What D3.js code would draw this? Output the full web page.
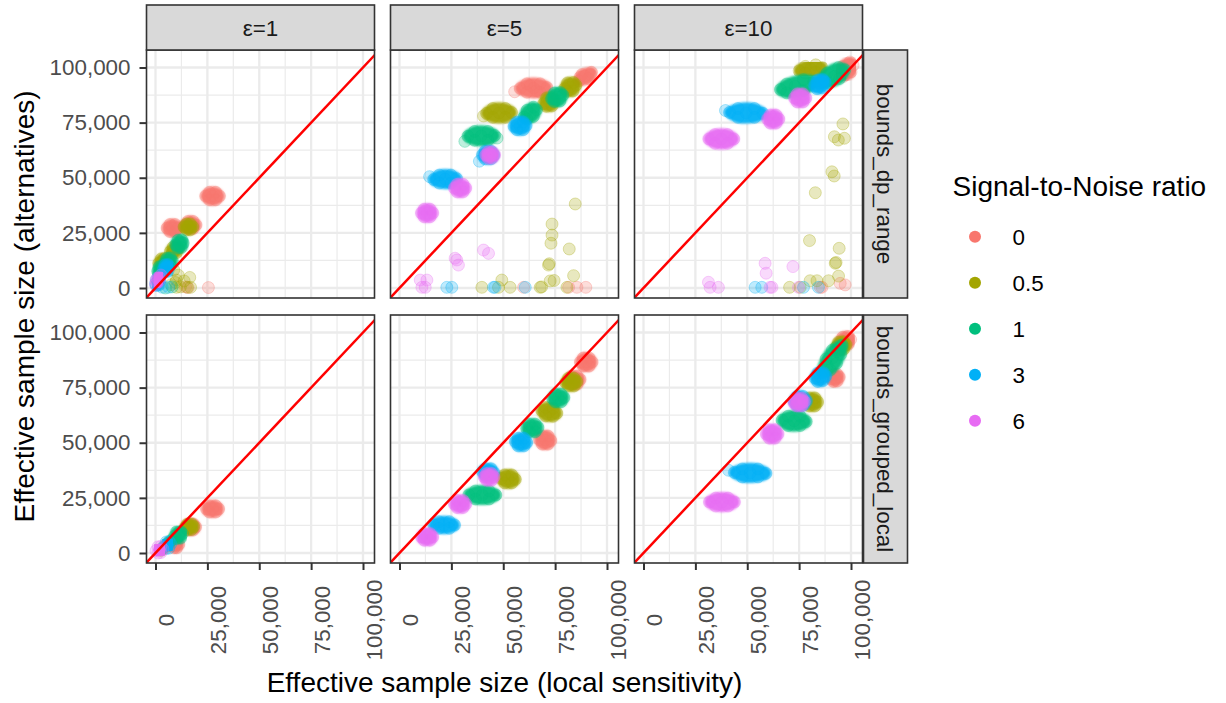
<!DOCTYPE html>
<html>
<head>
<meta charset="utf-8">
<script src="https://cdn.jsdelivr.net/npm/d3@7"></script>
<style>
  body { margin: 0; background: #fff; }
  svg { display: block; font-family: "Liberation Sans", Arial, Helvetica, sans-serif; }
</style>
</head>
<body>
<div id="chart"></div>
<script>
const snrLevels = ["0", "0.5", "1", "3", "6"];
const snrColors = ["#F8766D", "#A3A500", "#00BF7D", "#00B0F6", "#E76BF3"];
const epsLabels = ["ε=1", "ε=5", "ε=10"];
const boundLabels = ["bounds_dp_range", "bounds_grouped_local"];
const tickValues = [0, 25000, 50000, 75000, 100000];
const minorValues = [12500, 37500, 62500, 87500];

// points, in thousands: [snr index, [[x, y], ...], kind]
// kind "s" = scattered single runs, otherwise a dense cluster of runs
const rangeE1 = [
  [0, [[24.2,41.7],[30.8,41.7],[26,43.4],[29,43.4],[26,40],[29,40],[27.5,41.7]]],
  [0, [[5.6,27.2],[10.8,27.2],[7,28.8],[9.4,28.8],[7,25.6],[9.4,25.6],[8.2,27.2]]],
  [0, [[14.3,28.6],[19.5,28.6],[15.7,30.2],[18.1,30.2],[15.7,27],[18.1,27],[16.9,28.6]]],
  [0, [[15.7,0.2],[25.5,0.2],[14.5,0.5]], "s"],
  [1, [[13.8,27.7],[18,27.7],[15,29],[16.8,29],[15,26.4],[16.8,26.4],[15.9,27.7]]],
  [1, [[7.2,16.5],[11.2,18],[8.5,18.5],[10.2,19],[8,15.5],[10,16],[9.2,17.2]]],
  [1, [[1.6,11.2],[5.2,12.4],[2.8,13.2],[4.4,13.4],[2.6,10.2],[4.2,10.6],[3.4,11.8]]],
  [1, [[16.5,4.8],[8.8,8.2],[10.1,3.6],[9.6,2.5],[10.1,0.3],[15.3,0.3],[16.9,0.3],[12,0.5],[7.5,1.5],[11,5.8],[13.8,3.2]], "s"],
  [2, [[9.8,19.6],[13.4,20.4],[10.8,21.6],[12.6,21.8],[10.6,18.2],[12.4,18.4],[11.6,20]]],
  [2, [[4.5,11.4],[8.1,12.2],[5.5,13.4],[7.2,13.6],[5.4,10.2],[7.2,10.4],[6.3,11.8]]],
  [2, [[1,7.6],[3.8,8.8],[1.8,9.6],[3,9.8],[1.6,6.6],[3,6.8],[2.4,8.2]]],
  [2, [[4.8,0],[8,0.5]], "s"],
  [3, [[3.8,8.4],[6.8,9.6],[4.6,10.4],[6,10.6],[4.4,7.4],[6,7.6],[5.3,9]]],
  [3, [[0,2],[2,3.4],[0.5,4],[1.6,4.2],[0.3,1.2],[1.5,1.4],[1,2.7]]],
  [3, [[3.2,0.3],[6.4,0.3]], "s"],
  [4, [[0,1.5],[0.5,2.8],[1.2,3.8],[1.8,4.8],[2.6,5.9],[0.2,3.5],[1.8,3.2],[1,4.5]]]
];

const rangeE5 = [
  [0, [[58.2,90.5],[71,90.9],[61.4,92.6],[67.8,92.6],[61.4,88.8],[67.8,88.8],[64.6,90.7],[66,89.5],[63,91.8]]],
  [0, [[86.5,94],[92.5,97.8],[88,96.8],[91,95],[89.5,96.1],[87,95.5],[92,96.8]]],
  [0, [[55.5,89],[59.8,0.3],[81.5,0.3],[85.5,0.3],[89.8,0.3]], "s"],
  [1, [[79.6,90.4],[85,92],[81,93],[83.8,93.2],[80.8,89.2],[83.6,89.4],[82.3,91.2]]],
  [1, [[69.5,83.6],[74.9,85.2],[70.9,86.2],[73.7,86.4],[70.7,82.4],[73.5,82.6],[72.2,84.4]]],
  [1, [[42,79.2],[54,79.6],[45,81.4],[51,81.4],[45,77.4],[51,77.4],[48,79.4]]],
  [1, [[40.5,78],[84.7,38.1],[73.5,29],[73.5,24],[73,20.3],[81.8,17.7],[71.8,10.4],[72.2,11],[83.9,5.6],[72.6,3.2],[74.5,3.4],[49.3,3.6],[47.7,0.3],[53.3,0.3],[39.7,0.3],[67.8,0.3],[68.5,0.5],[80.7,0.3]], "s"],
  [2, [[73.3,85.8],[78.7,87.4],[74.7,88.4],[77.5,88.6],[74.5,84.6],[77.3,84.8],[76,86.6]]],
  [2, [[60,77.5],[66,80.8],[61.5,80.6],[64.6,82],[61.4,76.6],[64.5,77.8],[63,79]]],
  [2, [[33,68.8],[45.8,69.2],[36.2,71],[42.6,71],[36.2,67],[42.6,67],[39.4,69]]],
  [2, [[31.5,66.5],[47,68]], "s"],
  [3, [[55.2,73.3],[61,73.7],[56.6,75.2],[59.6,75.3],[56.6,71.8],[59.6,71.8],[58.1,73.5]]],
  [3, [[40,60.3],[45.4,60.3],[41.3,62],[44.1,62],[41.3,58.6],[44.1,58.6],[42.7,60.3]]],
  [3, [[16.5,49.2],[27.5,49.6],[19.2,51.2],[24.8,51.2],[19.2,47.6],[24.8,47.6],[22,49.4]]],
  [3, [[38.5,57.5],[14.5,50.5],[45.3,0.3],[46,0.3],[60.6,0.3],[22.8,0.3],[25.2,0.3]], "s"],
  [4, [[41.6,60.3],[45.8,60.3],[42.7,61.7],[44.7,61.7],[42.7,58.9],[44.7,58.9],[43.7,60.3]]],
  [4, [[26.5,45.3],[31.9,45.3],[27.8,47],[30.6,47],[27.8,43.6],[30.6,43.6],[29.2,45.3]]],
  [4, [[10.6,34],[16,34],[11.9,35.7],[14.7,35.7],[11.9,32.3],[14.7,32.3],[13.3,34]]],
  [4, [[10,3.6],[13.2,3.6],[10.8,0.3],[12.4,0.3],[26.8,13.5],[28.4,10.4],[27.6,12.7],[40.5,17.2],[42.9,15.7]], "s"]
];

const rangeE10 = [
  [0, [[94.5,96.5],[101,101],[96,100.5],[99.5,102.5],[96.5,96],[100,98],[98,99]]],
  [0, [[94.8,2.1],[97.2,1.4],[85.2,0.3],[86,0.3]], "s"],
  [1, [[75,98.5],[86,100],[78,100.5],[83,101.2],[78,97.5],[83,98],[80.5,99.3]]],
  [1, [[96.1,74.4],[92,68.6],[93.9,67.1],[96.8,67.9],[90.8,52.7],[91.9,50.8],[82.8,43.2],[80,21.5],[94.3,18],[92.4,11.2],[92.8,11.6],[94,5.4],[89.2,3.3],[80.3,3.3],[83.6,3.3],[70.4,0.3],[75.5,0.3]], "s"],
  [2, [[66,90],[82,93.5],[69,92.5],[77,94.5],[69,88.5],[77,89.5],[73,91.5]]],
  [2, [[85,93],[97,99],[88.5,97.5],[94,100],[89.5,93],[94.5,95],[92,96]]],
  [3, [[41.5,79.6],[57.5,79.2],[45.5,81.4],[53.5,81.4],[45.5,77.4],[53.5,77.4],[49.5,79.4]]],
  [3, [[82.5,91.6],[87.5,93.4],[83.8,94.2],[86.4,94.5],[83.6,90.4],[86.2,90.8],[85,92.5]]],
  [3, [[39.5,80.5],[53.8,0.3],[57,0.3],[77.1,0.3],[84.3,0.3]], "s"],
  [4, [[31.5,67.6],[43.5,67.6],[34.5,69.6],[40.5,69.6],[34.5,65.6],[40.5,65.6],[37.5,67.6]]],
  [4, [[59.8,76.6],[65.2,76.6],[61.1,78.4],[63.9,78.4],[61.1,74.8],[63.9,74.8],[62.5,76.6]]],
  [4, [[72.8,86.2],[78.2,86.2],[74.1,88],[76.9,88],[74.1,84.4],[76.9,84.4],[75.5,86.2]]],
  [4, [[61,0.3],[61.9,0.3],[58.6,11.2],[59.1,6.7],[72,9.7],[31.3,2.6],[32.1,0.3],[36.1,0.3],[74.7,0.3]], "s"]
];

const localE1 = [
  [0, [[24.6,20],[30.4,20],[26,21.4],[29,21.4],[26,18.6],[29,18.6],[27.5,20]]],
  [0, [[14.5,11.8],[19.3,11.8],[15.7,13.2],[18.1,13.2],[15.7,10.4],[18.1,10.4],[16.9,11.8]]],
  [0, [[8,3.3],[11.2,3.9],[9,4.8],[10.2,4.8],[9,2.4],[10.2,2.4],[9.6,3.6]]],
  [1, [[14.4,11.6],[18.4,12],[15.4,13],[17.4,13.1],[15.4,10.6],[17.4,10.7],[16.4,11.8]]],
  [1, [[2.5,1.2],[4,2.2],[6.5,4.5]]],
  [2, [[9.2,7.6],[13,8.8],[10.2,9.6],[12,9.8],[10.1,6.6],[12,6.8],[11.1,8.2]]],
  [2, [[3.5,2.2],[6,4.5],[8,6]]],
  [3, [[4.2,3],[7.4,4.2],[5.2,5],[6.6,5.2],[5,2],[6.4,2.2],[5.8,3.6]]],
  [4, [[0.2,1],[3.6,1.8],[1.2,2.8],[2.6,3],[1.2,0],[2.6,0.2],[1.9,1.4]]]
];

const localE5 = [
  [0, [[87.2,86.6],[92.8,86.6],[88.6,88.4],[91.4,88.4],[88.6,84.8],[91.4,84.8],[90,86.6]]],
  [0, [[81.5,78.3],[87,78.7],[82.8,80.2],[85.6,80.2],[82.8,76.6],[85.6,76.6],[84.2,78.5]]],
  [0, [[67.5,51.4],[72.9,51],[68.8,53],[71.6,53],[68.8,49.4],[71.6,49.4],[70.2,51.2]]],
  [1, [[80.1,77.3],[85.5,77.7],[81.4,79.2],[84.2,79.2],[81.4,75.8],[84.2,75.8],[82.8,77.5]]],
  [1, [[68.6,64.6],[75.8,63.4],[70.4,66],[74,65.6],[70.4,62.2],[74,62],[72.2,64]]],
  [1, [[49,33.8],[55.8,33.4],[50.7,35.4],[54.1,35.4],[50.7,31.8],[54.1,31.8],[52.4,33.6]]],
  [2, [[73.8,70.1],[79.2,70.5],[75.1,72],[77.9,72],[75.1,68.6],[77.9,68.6],[76.5,70.3]]],
  [2, [[61.3,56.5],[66.7,56.9],[62.6,58.4],[65.4,58.4],[62.6,55],[65.4,55],[64,56.7]]],
  [2, [[33.4,26.3],[46.4,26.3],[36.6,28.1],[43.2,28.1],[36.6,24.5],[43.2,24.5],[39.9,26.3]]],
  [3, [[55.9,50.5],[61.3,50.1],[57.2,52],[60,52],[57.2,48.6],[60,48.6],[58.6,50.3]]],
  [3, [[40,36.9],[45.4,36.5],[41.3,38.2],[44.1,38.2],[41.3,35.2],[44.1,35.2],[42.7,36.7]]],
  [3, [[16.5,12.7],[26.5,12.7],[19,14.2],[24,14.2],[19,11.2],[24,11.2],[21.5,12.7]]],
  [4, [[40.9,34.5],[45.5,34.5],[42,36],[44.4,36],[42,33],[44.4,33],[43.2,34.5]]],
  [4, [[26.5,22.2],[31.9,22.2],[27.8,23.8],[30.6,23.8],[27.8,20.6],[30.6,20.6],[29.2,22.2]]],
  [4, [[10.6,7.3],[16,7.3],[11.9,8.8],[14.7,8.8],[11.9,5.8],[14.7,5.8],[13.3,7.3]]]
];

const localE10 = [
  [0, [[90.5,79],[94.3,79.8],[91.5,80.8],[93.3,81],[91.5,77.8],[93.3,78],[92.4,79.4]]],
  [0, [[94.6,95.4],[99.8,96.8],[96,97.8],[98.5,98.2],[96,94.2],[98.5,94.6],[97.2,96.1]]],
  [1, [[78.5,68.5],[83.9,68.5],[79.8,70.3],[82.6,70.3],[79.8,66.7],[82.6,66.7],[81.2,68.5]]],
  [1, [[92.8,93.3],[97.6,94.5],[94,95.6],[96.4,95.8],[94,92],[96.4,92.4],[95.2,93.9]]],
  [2, [[66.8,60.2],[78.4,59.6],[69.7,62],[75.5,62],[69.7,57.8],[75.5,57.8],[72.6,59.9]]],
  [2, [[86.1,82.1],[88.5,85],[91,88.4],[93.3,91.3],[95.7,94.3],[88,88],[93,86],[90,83],[95,90],[91,92]]],
  [3, [[43.8,36.5],[59,36.1],[47.6,38.1],[55.2,38.1],[47.6,34.5],[55.2,34.5],[51.4,36.3]]],
  [3, [[41,37.5]], "s"],
  [3, [[72.5,69],[78.5,69],[74,71],[77,71],[74,67],[77,67],[75.5,69]]],
  [3, [[82.6,79.4],[87.8,80.2],[84,81.6],[86.6,81.8],[83.9,77.8],[86.5,78.2],[85.2,79.8]]],
  [4, [[31.8,23.1],[43.8,23.1],[34.8,24.9],[40.8,24.9],[34.8,21.3],[40.8,21.3],[37.8,23.1]]],
  [4, [[59.2,54],[64.8,54],[60.6,55.9],[63.4,55.9],[60.6,52.1],[63.4,52.1],[62,54]]],
  [4, [[72.5,68.3],[77.5,68.7],[73.7,70.2],[76.3,70.2],[73.7,66.8],[76.3,66.8],[75,68.5]]]
];

const panels = [
  {row: 0, col: 0, data: rangeE1}, {row: 0, col: 1, data: rangeE5}, {row: 0, col: 2, data: rangeE10},
  {row: 1, col: 0, data: localE1}, {row: 1, col: 1, data: localE5}, {row: 1, col: 2, data: localE10}
];

const W = 1226, H = 703;
const colLeft = [146.5, 390.5, 634.5], panelW = 228;
const rowTop = [50, 315], panelH = 248;
const xDomain = [-4340, 105540], yDomain = [-4535, 107936];
const fmt = d3.format(",");
const blobLine = d3.line().curve(d3.curveCatmullRomClosed.alpha(0.5));

let svg = d3.select("#chart").append("svg")
  .attr("width", W).attr("height", H)
  .attr("viewBox", `0 0 ${W} ${H}`);
svg.append("rect").attr("width", W).attr("height", H).attr("fill", "#fff");

// soft edge, like the fringe of many translucent runs
svg.append("defs").append("filter").attr("id", "soft")
  .attr("x", "-20%").attr("y", "-30%").attr("width", "140%").attr("height", "160%")
  .append("feGaussianBlur").attr("stdDeviation", 0.9);

let xScale = (c) => d3.scaleLinear().domain(xDomain).range([colLeft[c], colLeft[c] + panelW]);
let yScale = (r) => d3.scaleLinear().domain(yDomain).range([rowTop[r] + panelH, rowTop[r]]);

panels.forEach((p, i) => {
  const x = xScale(p.col), y = yScale(p.row);
  const left = colLeft[p.col], top = rowTop[p.row];

  svg.append("clipPath").attr("id", `clip${i}`)
    .append("rect").attr("x", left).attr("y", top).attr("width", panelW).attr("height", panelH);

  let g = svg.append("g").attr("clip-path", `url(#clip${i})`);
  g.append("rect").attr("x", left).attr("y", top).attr("width", panelW).attr("height", panelH).attr("fill", "#fff");

  // grid
  minorValues.forEach(v => {
    g.append("line").attr("x1", x(v)).attr("x2", x(v)).attr("y1", top).attr("y2", top + panelH)
      .attr("stroke", "#EBEBEB").attr("stroke-width", 1.2);
    g.append("line").attr("y1", y(v)).attr("y2", y(v)).attr("x1", left).attr("x2", left + panelW)
      .attr("stroke", "#EBEBEB").attr("stroke-width", 1.2);
  });
  tickValues.forEach(v => {
    g.append("line").attr("x1", x(v)).attr("x2", x(v)).attr("y1", top).attr("y2", top + panelH)
      .attr("stroke", "#EBEBEB").attr("stroke-width", 2.3);
    g.append("line").attr("y1", y(v)).attr("y2", y(v)).attr("x1", left).attr("x2", left + panelW)
      .attr("stroke", "#EBEBEB").attr("stroke-width", 2.3);
  });

  // points in ggplot order: one snr level after the other
  snrLevels.forEach((lev, s) => {
    const groups = p.data.filter(d => d[0] === s);
    const pts = groups.flatMap(d => d[1].map(q => [x(q[0] * 1000), y(q[1] * 1000)]));

    g.append("g").selectAll("circle").data(pts).enter().append("circle")
      .attr("cx", d => d[0]).attr("cy", d => d[1]).attr("r", 6)
      .attr("fill", snrColors[s]).attr("fill-opacity", 0.25)
      .attr("stroke", snrColors[s]).attr("stroke-opacity", 0.3).attr("stroke-width", 1);

    // dense clusters: the overlapping runs merge into a solid blob
    const blobs = groups.filter(d => d[2] !== "s")
      .map(d => d3.polygonHull(d[1].map(q => [x(q[0] * 1000), y(q[1] * 1000)])));
    g.append("g").attr("filter", "url(#soft)")
      .selectAll("path").data(blobs).enter().append("path")
      .attr("d", h => blobLine(h))
      .attr("fill", snrColors[s]).attr("stroke", snrColors[s])
      .attr("stroke-width", 10.5).attr("stroke-linejoin", "round")
      .attr("opacity", 0.93);
  });

  g.append("line")
    .attr("x1", x(-10000)).attr("y1", y(-10000))
    .attr("x2", x(115000)).attr("y2", y(115000))
    .attr("stroke", "#FF0000").attr("stroke-width", 2.5);

  svg.append("rect").attr("x", left).attr("y", top).attr("width", panelW).attr("height", panelH)
    .attr("fill", "none").attr("stroke", "#333333").attr("stroke-width", 1.6);
});

// top strips
epsLabels.forEach((lab, c) => {
  svg.append("rect").attr("x", colLeft[c]).attr("y", 5).attr("width", panelW).attr("height", 45)
    .attr("fill", "#D9D9D9").attr("stroke", "#333333").attr("stroke-width", 1.6);
  svg.append("text").attr("x", colLeft[c] + panelW / 2).attr("y", 27.5).attr("dy", "0.36em")
    .attr("text-anchor", "middle").attr("font-size", 22.4).attr("fill", "#1A1A1A").text(lab);
});

// right strips
boundLabels.forEach((lab, r) => {
  svg.append("rect").attr("x", 863.5).attr("y", rowTop[r]).attr("width", 44).attr("height", panelH)
    .attr("fill", "#D9D9D9").attr("stroke", "#333333").attr("stroke-width", 1.6);
  svg.append("text")
    .attr("transform", `translate(${863.5 + 22},${rowTop[r] + panelH / 2}) rotate(90)`)
    .attr("dy", "0.36em").attr("text-anchor", "middle")
    .attr("font-size", 22.4).attr("fill", "#1A1A1A").text(lab);
});

// y axes
[0, 1].forEach(r => {
  let ax = svg.append("g").attr("transform", `translate(${colLeft[0]},0)`)
    .call(d3.axisLeft(yScale(r)).tickValues(tickValues).tickFormat(fmt).tickSize(7).tickPadding(9));
  ax.select(".domain").remove();
  ax.selectAll(".tick line").attr("stroke", "#333333").attr("stroke-width", 2);
  ax.selectAll(".tick text").attr("font-size", 22.4).attr("fill", "#4D4D4D")
    .attr("font-family", "'Liberation Sans', Arial, sans-serif");
});

// x axes
[0, 1, 2].forEach(c => {
  let ax = svg.append("g").attr("transform", `translate(0,${rowTop[1] + panelH})`)
    .call(d3.axisBottom(xScale(c)).tickValues(tickValues).tickFormat(fmt).tickSize(7));
  ax.select(".domain").remove();
  ax.selectAll(".tick line").attr("stroke", "#333333").attr("stroke-width", 2);
  ax.selectAll(".tick text")
    .attr("transform", "rotate(-90)")
    .attr("x", -57).attr("y", 18).attr("dy", 0)
    .attr("text-anchor", "middle")
    .attr("font-size", 22.4).attr("fill", "#4D4D4D")
    .attr("font-family", "'Liberation Sans', Arial, sans-serif");
});

// axis titles
svg.append("text").attr("x", (colLeft[0] + colLeft[2] + panelW) / 2).attr("y", 692)
  .attr("text-anchor", "middle").attr("font-size", 28).attr("fill", "#000")
  .text("Effective sample size (local sensitivity)");
svg.append("text")
  .attr("transform", `translate(34,${(rowTop[0] + rowTop[1] + panelH) / 2}) rotate(-90)`)
  .attr("text-anchor", "middle").attr("font-size", 28).attr("fill", "#000")
  .text("Effective sample size (alternatives)");

// legend
let legend = svg.append("g");
legend.append("text").attr("x", 952.5).attr("y", 196).attr("font-size", 28).attr("fill", "#000")
  .text("Signal-to-Noise ratio");
snrLevels.forEach((lab, i) => {
  const cy = 236.7 + i * 46;
  legend.append("circle").attr("cx", 975).attr("cy", cy).attr("r", 6).attr("fill", snrColors[i]);
  legend.append("text").attr("x", 1012.5).attr("y", cy).attr("dy", "0.36em")
    .attr("font-size", 22.4).attr("fill", "#000").text(lab);
});
</script>
</body>
</html>
